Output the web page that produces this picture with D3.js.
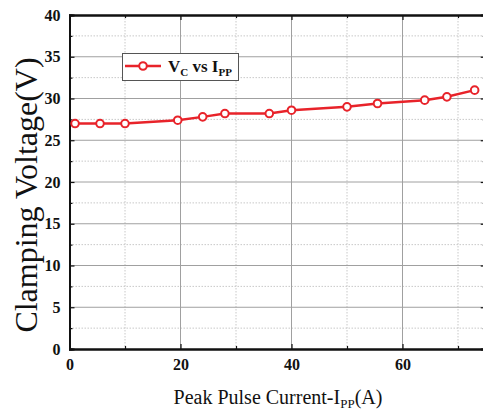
<!DOCTYPE html>
<html><head><meta charset="utf-8">
<script src="https://cdn.jsdelivr.net/npm/d3@7"></script>
<style>body{margin:0;background:#fff}svg{display:block}
text{font-family:"Liberation Serif","Times New Roman",serif}</style>
</head><body>
<svg id="c" width="483" height="413"></svg>
<script>
const currents = [1, 5.5, 10, 19.5, 24, 28, 36, 40, 50, 55.5, 64, 68, 73];
const voltages = [27.0, 27.0, 27.0, 27.4, 27.8, 28.2, 28.2, 28.6, 29.0, 29.4, 29.8, 30.2, 31.0];
const xTicks = [0, 20, 40, 60];
const yTicks = [0, 5, 10, 15, 20, 25, 30, 35, 40];
const xMinor = [10, 30, 50, 70];
const yMinor = [2.5, 7.5, 12.5, 17.5, 22.5, 27.5, 32.5, 37.5];

const SERIF = "'Liberation Serif', 'Times New Roman', serif";
const svg = d3.select("#c");
const L = 69.5, T = 15, B = 349;
const x = d3.scaleLinear().domain([0, 75]).range([L, L + 75 * 5.55]);
const y = d3.scaleLinear().domain([0, 40]).range([B, T]);
const R = x(75);

const g = svg.append("g");
g.selectAll(".vminor").data(xMinor).join("line")
  .attr("x1", d => x(d)).attr("x2", d => x(d)).attr("y1", T).attr("y2", B)
  .attr("stroke", "#c8c8c8").attr("stroke-width", 1).attr("stroke-dasharray", "1.5,1.5");
g.selectAll(".hminor").data(yMinor).join("line")
  .attr("x1", L).attr("x2", R).attr("y1", d => y(d)).attr("y2", d => y(d))
  .attr("stroke", "#c8c8c8").attr("stroke-width", 1).attr("stroke-dasharray", "1.5,1.5");
g.selectAll(".vmajor").data(xTicks.filter(d => d > 0)).join("line")
  .attr("x1", d => x(d)).attr("x2", d => x(d)).attr("y1", T).attr("y2", B)
  .attr("stroke", "#a0a0a0").attr("stroke-width", 1);
g.selectAll(".hmajor").data(yTicks.filter(d => d > 0 && d < 40)).join("line")
  .attr("x1", L).attr("x2", R).attr("y1", d => y(d)).attr("y2", d => y(d))
  .attr("stroke", "#a0a0a0").attr("stroke-width", 1);

const xb = d3.axisBottom(x).tickValues(xTicks).tickSize(-5).tickPadding(10).tickFormat(d3.format("d"));
const xbm = d3.axisBottom(x).tickValues(xMinor).tickSize(-3).tickFormat("");
const xt = d3.axisTop(x).tickValues(xTicks).tickSize(-5).tickFormat("");
const xtm = d3.axisTop(x).tickValues(xMinor).tickSize(-3).tickFormat("");
const yl = d3.axisLeft(y).tickValues(yTicks).tickSize(-5).tickPadding(9).tickFormat(d3.format("d"));
const ylm = d3.axisLeft(y).tickValues(yMinor).tickSize(-3).tickFormat("");
const yr = d3.axisRight(y).tickValues(yTicks).tickSize(-5).tickFormat("");
const yrm = d3.axisRight(y).tickValues(yMinor).tickSize(-3).tickFormat("");

function styleAxis(sel) {
  sel.attr("font-family", SERIF).attr("font-size", 16).attr("font-weight", "bold");
  sel.selectAll("path.domain").attr("stroke", "#111").attr("stroke-width", 2);
  sel.selectAll(".tick line").attr("stroke", "#111").attr("stroke-width", 1.2);
  sel.selectAll(".tick text").attr("fill", "#111");
}
[[xb, `translate(0,${B})`], [xbm, `translate(0,${B})`], [xt, `translate(0,${T})`], [xtm, `translate(0,${T})`],
 [yl, `translate(${L},0)`], [ylm, `translate(${L},0)`], [yr, `translate(${R},0)`], [yrm, `translate(${R},0)`]]
 .forEach(([ax, tr]) => {
   const s = svg.append("g").attr("transform", tr).call(ax);
   styleAxis(s);
 });

const red = "#e8232a";
const pts = currents.map((c, i) => [c, voltages[i]]);
svg.append("path").datum(pts)
  .attr("fill", "none").attr("stroke", red).attr("stroke-width", 2.5)
  .attr("d", d3.line().x(d => x(d[0])).y(d => y(d[1])));
svg.selectAll(".pt").data(pts).join("circle")
  .attr("cx", d => x(d[0])).attr("cy", d => y(d[1])).attr("r", 3.8)
  .attr("fill", "#fff").attr("stroke", red).attr("stroke-width", 2);

const lg = svg.append("g");
lg.append("rect").attr("x", 122.5).attr("y", 53.5).attr("width", 116).attr("height", 27)
  .attr("fill", "#fff").attr("stroke", "#555").attr("stroke-width", 1);
lg.append("line").attr("x1", 125).attr("x2", 161).attr("y1", 66).attr("y2", 66)
  .attr("stroke", red).attr("stroke-width", 2.5);
lg.append("circle").attr("cx", 143).attr("cy", 66).attr("r", 3.8)
  .attr("fill", "#fff").attr("stroke", red).attr("stroke-width", 2);
const lt = lg.append("text").attr("x", 168).attr("y", 72)
  .attr("font-family", SERIF).attr("font-size", 17).attr("font-weight", "bold").attr("fill", "#111");
lt.append("tspan").text("V");
lt.append("tspan").attr("dy", 4).attr("font-size", 11).text("C");
lt.append("tspan").attr("dy", -4).text(" vs I");
lt.append("tspan").attr("dy", 4).attr("font-size", 11).text("PP");

svg.append("text")
  .attr("transform", `translate(37,195) rotate(-90)`)
  .attr("text-anchor", "middle")
  .attr("font-family", SERIF).attr("font-size", 32).attr("fill", "#111")
  .text("Clamping Voltage(V)");

const xtl = svg.append("text").attr("x", 278).attr("y", 404).attr("text-anchor", "middle")
  .attr("font-family", SERIF).attr("font-size", 20).attr("fill", "#111");
xtl.append("tspan").text("Peak Pulse Current-I");
xtl.append("tspan").attr("dy", 4).attr("font-size", 13).text("PP");
xtl.append("tspan").attr("dy", -4).text("(A)");
</script>
</body></html>
